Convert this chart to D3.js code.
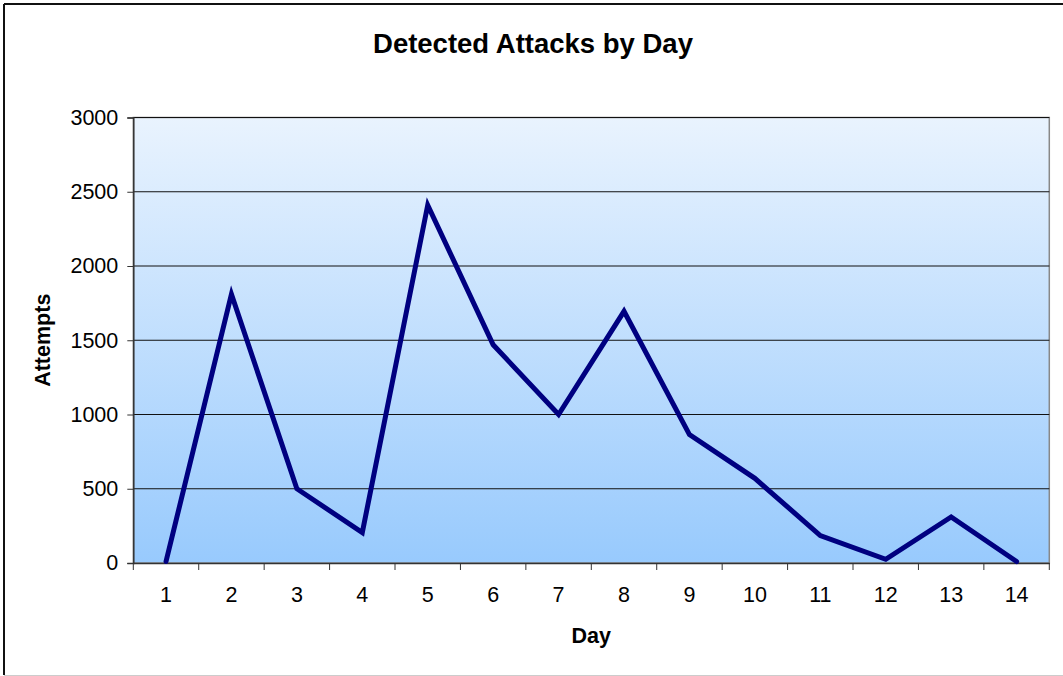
<!DOCTYPE html>
<html>
<head>
<meta charset="utf-8">
<script src="https://cdn.jsdelivr.net/npm/d3@7"></script>
<style>
  body { margin: 0; background: #fff; }
  svg { display: block; font-family: "Liberation Sans", Arial, sans-serif; }
</style>
</head>
<body>
<svg id="chart"></svg>
<script>
var days = ["1","2","3","4","5","6","7","8","9","10","11","12","13","14"];
var attempts = [10, 1810, 500, 205, 2410, 1470, 1000, 1695, 865, 570, 185, 25, 310, 10];
var yTicks = [0, 500, 1000, 1500, 2000, 2500, 3000];

var W = 1063, H = 676;
var margin = {top: 117.5, right: 13.7, bottom: 113, left: 133.3},
    width = W - margin.left - margin.right,
    height = H - margin.top - margin.bottom;

var svg = d3.select("#chart").attr("width", W).attr("height", H);

// outer chart frame (cropped on right)
svg.append("line").attr("x1", 4).attr("x2", W).attr("y1", 4).attr("y2", 4)
    .attr("stroke", "#111").attr("stroke-width", 2);
svg.append("line").attr("x1", 4).attr("x2", 4).attr("y1", 4).attr("y2", 675)
    .attr("stroke", "#111").attr("stroke-width", 2);
svg.append("line").attr("x1", 4).attr("x2", W).attr("y1", 675.5).attr("y2", 675.5)
    .attr("stroke", "#ccc").attr("stroke-width", 1);

var defs = svg.append("defs");
var grad = defs.append("linearGradient").attr("id", "bg")
    .attr("x1", 0).attr("y1", 0).attr("x2", 0).attr("y2", 1);
grad.append("stop").attr("offset", "0%").attr("stop-color", "#e9f3fe");
grad.append("stop").attr("offset", "100%").attr("stop-color", "#98cafd");

var g = svg.append("g").attr("transform", `translate(${margin.left}, ${margin.top})`);

var x = d3.scaleBand().domain(days).range([0, width]).padding(0);
var y = d3.scaleLinear().domain([0, 3000]).range([height, 0]);

g.append("rect").attr("width", width).attr("height", height)
    .attr("fill", "url(#bg)").attr("stroke", "#888").attr("stroke-width", 1.5);

// gridlines
g.append("g").selectAll("line").data(yTicks.filter(d => d > 0)).enter().append("line")
    .attr("x1", 0).attr("x2", width)
    .attr("y1", d => y(d)).attr("y2", d => y(d))
    .attr("stroke", "#111").attr("stroke-width", 1.2);

// y axis
var yAxis = g.append("g")
    .call(d3.axisLeft(y).tickValues(yTicks).tickFormat(d3.format("d")).tickSize(6).tickPadding(9));
yAxis.select(".domain").attr("stroke", "#333").attr("stroke-width", 1.5);
yAxis.selectAll(".tick line").attr("stroke", "#333");
yAxis.selectAll("text").attr("font-size", 21.5).attr("fill", "#000")
    .attr("font-family", "Liberation Sans, Arial, sans-serif");

// x axis: labels at band centres, ticks on band edges
var xAxis = g.append("g").attr("transform", `translate(0, ${height})`)
    .call(d3.axisBottom(x).tickSize(0).tickPadding(24));
xAxis.select(".domain").attr("stroke", "#333").attr("stroke-width", 1.5);
xAxis.selectAll("text").attr("font-size", 21.5).attr("fill", "#000")
    .attr("font-family", "Liberation Sans, Arial, sans-serif");
var edges = days.map(d => x(d)).concat([width]);
g.append("g").selectAll("line").data(edges).enter().append("line")
    .attr("x1", d => d).attr("x2", d => d)
    .attr("y1", height).attr("y2", height + 7)
    .attr("stroke", "#333").attr("stroke-width", 1);

// series line
var line = d3.line()
    .x((d, i) => x(days[i]) + x.bandwidth() / 2)
    .y(d => y(d));
g.append("path").datum(attempts)
    .attr("d", line)
    .attr("fill", "none")
    .attr("stroke", "#000080")
    .attr("stroke-width", 5)
    .attr("stroke-linejoin", "miter")
    .attr("stroke-linecap", "round");

// titles
svg.append("text").attr("x", 533).attr("y", 53)
    .attr("text-anchor", "middle").attr("font-size", 27.5).attr("font-weight", "bold")
    .text("Detected Attacks by Day");
svg.append("text").attr("x", margin.left + width / 2).attr("y", 643)
    .attr("text-anchor", "middle").attr("font-size", 21.5).attr("font-weight", "bold")
    .text("Day");
svg.append("text")
    .attr("transform", `translate(50, ${margin.top + height / 2}) rotate(-90)`)
    .attr("text-anchor", "middle").attr("font-size", 21.5).attr("font-weight", "bold")
    .text("Attempts");
</script>
</body>
</html>
